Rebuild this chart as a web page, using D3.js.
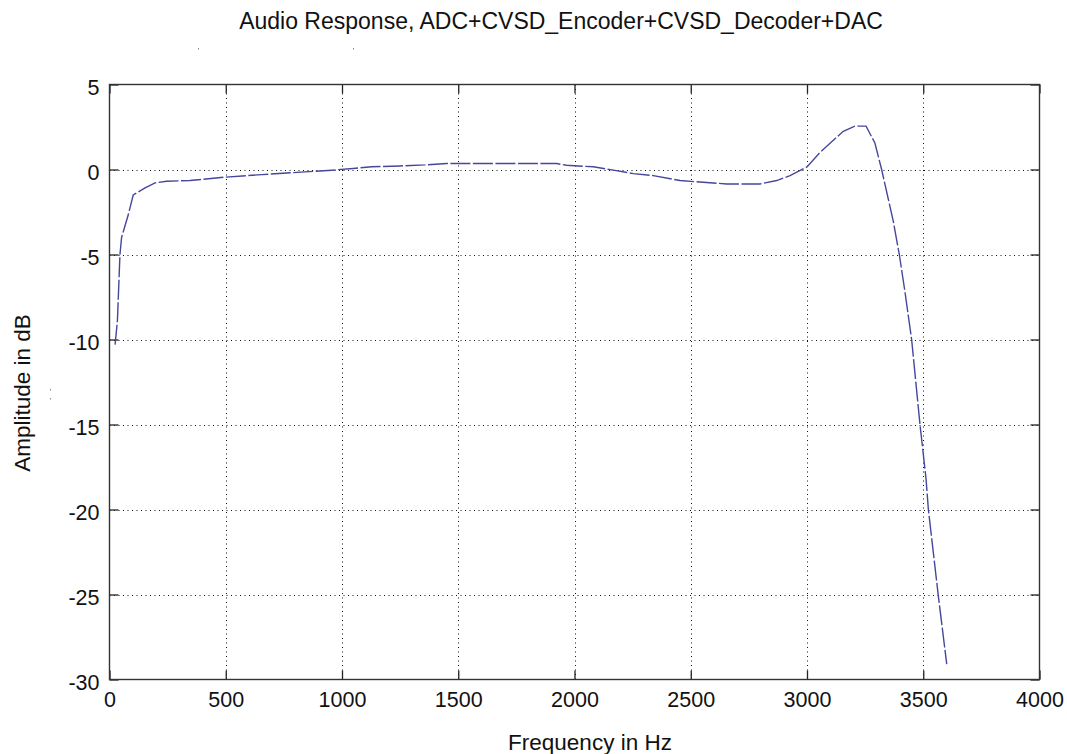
<!DOCTYPE html>
<html>
<head>
<meta charset="utf-8">
<script src="https://cdn.jsdelivr.net/npm/d3@7"></script>
<style>
  html, body { margin: 0; padding: 0; background: #fff; }
  svg { display: block; font-family: "Liberation Sans", Arial, Helvetica, sans-serif; }
</style>
</head>
<body>
<svg id="chart" width="1067" height="754"></svg>
<script>
// ---- data ----
const freqHz = [24, 34, 45, 52, 81, 102, 153, 196, 246, 346, 497, 655, 841, 956, 1048, 1128, 1249, 1357, 1450, 1923, 1966, 2016, 2081, 2167, 2253, 2339, 2454, 2554, 2655, 2798, 2870, 2927, 3000, 3056, 3156, 3206, 3254, 3292, 3321, 3371, 3397, 3421, 3450, 3486, 3512, 3522, 3565, 3601];
const amplitudeDb = [-10.3, -8.9, -5.0, -4.0, -2.65, -1.5, -1.08, -0.79, -0.69, -0.65, -0.45, -0.3, -0.14, -0.04, 0.06, 0.16, 0.21, 0.27, 0.35, 0.35, 0.25, 0.21, 0.16, -0.04, -0.24, -0.36, -0.65, -0.75, -0.85, -0.85, -0.65, -0.36, 0.15, 1.0, 2.25, 2.55, 2.55, 1.56, 0.0, -3.04, -5.0, -7.16, -10.0, -15.0, -18.2, -20.0, -25.1, -29.1];
const xTicks = [0, 500, 1000, 1500, 2000, 2500, 3000, 3500, 4000];
const yTicks = [-30, -25, -20, -15, -10, -5, 0, 5];
const titleText = "Audio Response, ADC+CVSD_Encoder+CVSD_Decoder+DAC";
const xLabelText = "Frequency in Hz";
const yLabelText = "Amplitude in dB";

// ---- layout ----
const L = 109.5, R = 1039.5, T = 84.5, B = 679.5;
const svg = d3.select("#chart");
const x = d3.scaleLinear().domain([0, 4000]).range([L, R]);
const y = d3.scaleLinear().domain([-30, 5]).range([B, T]);
const plainFmt = d => String(d);

// grid
const grid = svg.append("g").attr("class", "grid");
grid.selectAll("line.vx").data(xTicks.slice(1, -1)).join("line")
  .attr("x1", d => Math.round(x(d)) + 0.5).attr("x2", d => Math.round(x(d)) + 0.5)
  .attr("y1", T).attr("y2", B)
  .attr("stroke", "#111").attr("stroke-width", 1).attr("stroke-dasharray", "1,3.5");
grid.selectAll("line.hy").data(yTicks.slice(1, -1)).join("line")
  .attr("x1", L).attr("x2", R)
  .attr("y1", d => Math.round(y(d)) + 0.5).attr("y2", d => Math.round(y(d)) + 0.5)
  .attr("stroke", "#111").attr("stroke-width", 1).attr("stroke-dasharray", "1,3.5");

// axes with inward ticks on all four sides
const tickLen = 9;
function styleAxis(g) {
  g.select(".domain").remove();
  g.selectAll(".tick line").attr("stroke", "#222").attr("stroke-width", 1.3);
}
svg.append("g").attr("transform", `translate(0,${B})`)
  .call(d3.axisBottom(x).tickValues(xTicks).tickSize(-tickLen).tickPadding(14).tickFormat(plainFmt))
  .call(styleAxis)
  .call(g => g.selectAll("text").attr("font-size", 21.5).attr("fill", "#111").attr("font-family", "Liberation Sans, Arial, sans-serif").attr("dy", "0.71em").attr("y", 12));
svg.append("g").attr("transform", `translate(0,${T})`)
  .call(d3.axisTop(x).tickValues(xTicks).tickSize(-tickLen).tickFormat(""))
  .call(styleAxis);
svg.append("g").attr("transform", `translate(${L},0)`)
  .call(d3.axisLeft(y).tickValues(yTicks).tickSize(-tickLen).tickPadding(10).tickFormat(plainFmt))
  .call(styleAxis)
  .call(g => g.selectAll("text").attr("font-size", 21.5).attr("fill", "#111").attr("font-family", "Liberation Sans, Arial, sans-serif").attr("dy", "0.45em"));
svg.append("g").attr("transform", `translate(${R},0)`)
  .call(d3.axisRight(y).tickValues(yTicks).tickSize(-tickLen).tickFormat(""))
  .call(styleAxis);

// box
svg.append("rect").attr("x", L).attr("y", T).attr("width", R - L).attr("height", B - T)
  .attr("fill", "none").attr("stroke", "#333").attr("stroke-width", 1.4);

// data line
const pts = freqHz.map((f, i) => [f, amplitudeDb[i]]);
svg.append("path").datum(pts)
  .attr("fill", "none").attr("stroke", "#46469a").attr("stroke-width", 1.4)
  .attr("stroke-dasharray", "20,2.5")
  .attr("d", d3.line().x(d => x(d[0])).y(d => y(d[1])));

// texts
svg.append("text").attr("x", 561).attr("y", 29).attr("text-anchor", "middle")
  .attr("font-size", 23).attr("fill", "#111").text(titleText);
svg.append("text").attr("x", 590).attr("y", 750).attr("text-anchor", "middle")
  .attr("font-size", 22.5).attr("fill", "#111").text(xLabelText);
svg.append("text").attr("transform", "translate(30,393) rotate(-90)").attr("text-anchor", "middle")
  .attr("font-size", 22.5).attr("fill", "#111").text(yLabelText);

// faint stray specks in the reference scan
const specks = [[198, 48], [353, 48], [50, 389], [50, 398]];
svg.selectAll("rect.speck").data(specks).join("rect")
  .attr("x", d => d[0]).attr("y", d => d[1]).attr("width", 1).attr("height", 1.5).attr("fill", "#888");
</script>
</body>
</html>
